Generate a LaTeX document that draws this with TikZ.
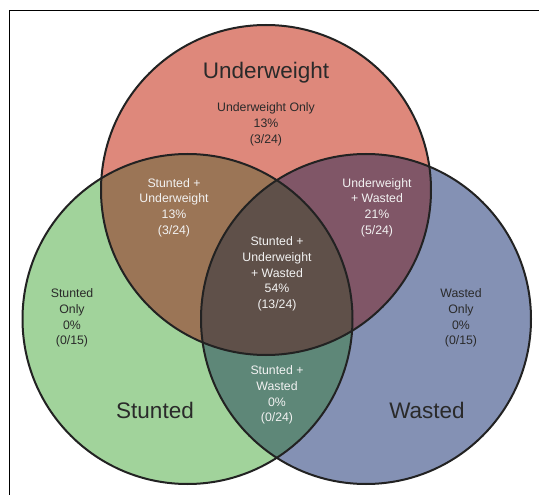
\documentclass[tikz,border=0pt]{standalone}
\usepackage{fontspec}
\setmainfont{Liberation Sans}
\definecolor{cT}{HTML}{DE887B}
\definecolor{cL}{HTML}{A1D39B}
\definecolor{cR}{HTML}{8491B4}
\definecolor{cTL}{HTML}{9B7556}
\definecolor{cTR}{HTML}{805667}
\definecolor{cLR}{HTML}{5E8778}
\definecolor{cTLR}{HTML}{5F5049}
\definecolor{ink}{HTML}{222222}
\definecolor{dtext}{HTML}{2A2A2A}
\definecolor{wtext}{HTML}{F2F2F2}
\begin{document}
\begin{tikzpicture}[x=1pt,y=-1pt,
  outline/.style={draw=ink,line width=2pt},
  small/.style={align=center,font=\fontsize{12.3}{15.7}\selectfont,inner sep=0pt},
  dark/.style={small,text=dtext},
  light/.style={small,text=wtext},
  big/.style={font=\fontsize{22.5}{26}\selectfont,text=dtext,inner sep=0pt}]
\useasboundingbox (0,0) rectangle (539,495);
\fill[white] (0,0) rectangle (539,495);
\draw[line width=1pt,black] (9,495) -- (9,11) -- (539,11);
\coordinate (T) at (266,190);
\coordinate (L) at (187.5,319);
\coordinate (R) at (366,319);
\def\rr{165pt}
% single regions
\fill[cT] (T) circle[radius=\rr];
\fill[cL] (L) circle[radius=\rr];
\fill[cR] (R) circle[radius=\rr];
% pairwise
\begin{scope}
  \clip (T) circle[radius=\rr];
  \fill[cTL] (L) circle[radius=\rr];
  \fill[cTR] (R) circle[radius=\rr];
\end{scope}
\begin{scope}
  \clip (L) circle[radius=\rr];
  \fill[cLR] (R) circle[radius=\rr];
\end{scope}
% triple
\begin{scope}
  \clip (T) circle[radius=\rr];
  \clip (L) circle[radius=\rr];
  \fill[cTLR] (R) circle[radius=\rr];
\end{scope}
% outlines
\draw[outline] (T) circle[radius=\rr];
\draw[outline] (L) circle[radius=\rr];
\draw[outline] (R) circle[radius=\rr];
% labels
\node[big] (lu) at (266,73) {Underweight};
\node[big] (ls) at (155,410) {Stunted};
\node[big] (lw) at (427,410) {Wasted};
\node[dark] (uo) at (266,124.5) {Underweight Only\\13\%\\(3/24)};
\node[light] (su) at (174,207.5) {Stunted +\\Underweight\\13\%\\(3/24)};
\node[light] (uw) at (377,207.5) {Underweight\\+ Wasted\\21\%\\(5/24)};
\node[light] (suw) at (277,274) {Stunted +\\Underweight\\+ Wasted\\54\%\\(13/24)};
\node[light] (sw) at (277,395) {Stunted +\\Wasted\\0\%\\(0/24)};
\node[dark] (so) at (72,318) {Stunted\\Only\\0\%\\(0/15)};
\node[dark] (wo) at (461,318) {Wasted\\Only\\0\%\\(0/15)};
\end{tikzpicture}
\end{document}
